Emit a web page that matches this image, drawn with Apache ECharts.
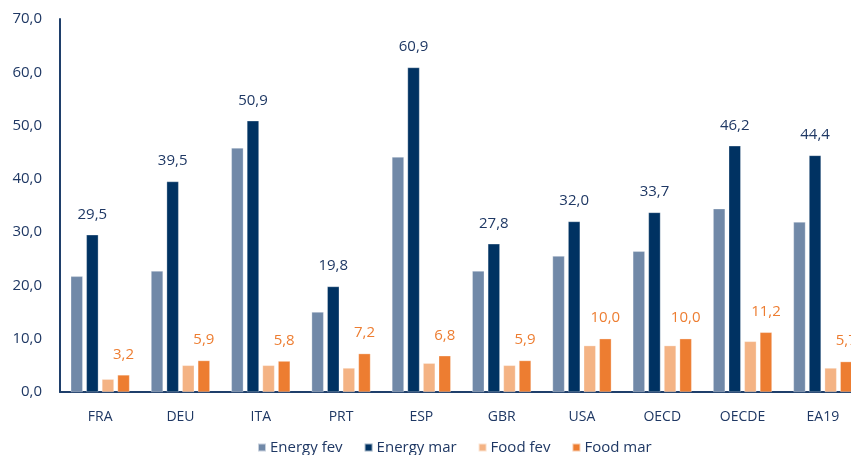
<!DOCTYPE html>
<html>
<head>
<meta charset="utf-8">
<script src="https://cdn.jsdelivr.net/npm/echarts@6/dist/echarts.min.js"></script>
<style>
  html, body { margin: 0; padding: 0; background: #ffffff; overflow: hidden; }
  /* the plot runs a little past the right edge of the page */
  #chart { width: 870px; height: 455px; }
</style>
</head>
<body>
<div id="chart"></div>
<script>
// Price change by country: energy and food, February vs March
const categories = ['FRA', 'DEU', 'ITA', 'PRT', 'ESP', 'GBR', 'USA', 'OECD', 'OECDE', 'EA19'];
const energyFev = [21.7, 22.7, 45.8, 15.0, 44.1, 22.7, 25.5, 26.4, 34.4, 31.9];
const energyMar = [29.5, 39.5, 50.9, 19.8, 60.9, 27.8, 32.0, 33.7, 46.2, 44.4];
const foodFev = [2.4, 5.0, 5.0, 4.5, 5.4, 5.0, 8.7, 8.7, 9.5, 4.5];
const foodMar = [3.2, 5.9, 5.8, 7.2, 6.8, 5.9, 10.0, 10.0, 11.2, 5.7];
const yTicks = [0, 10, 20, 30, 40, 50, 60, 70];

const FONT = 'Open Sans';
const NAVY_TEXT = '#1F3864';
const fmt = v => Number(v).toFixed(1).replace('.', ',');

function barSeries(name, data, color, labelColor) {
  const s = {
    name: name,
    type: 'bar',
    data: data,
    barWidth: 12,
    barGap: '30%',
    itemStyle: { color: color, borderColor: 'rgba(255,255,255,0.6)', borderWidth: 0.5 }
  };
  if (labelColor) {
    s.label = {
      show: true,
      position: 'top',
      distance: 13,
      color: labelColor,
      fontFamily: FONT,
      fontSize: 15,
      formatter: p => fmt(p.value)
    };
  }
  return s;
}

const chart = echarts.init(document.getElementById('chart'), null, { renderer: 'canvas' });
chart.setOption({
  animation: false,
  backgroundColor: '#ffffff',
  grid: { left: 60, top: 19, width: 803, bottom: 63, containLabel: false },
  legend: {
    left: 252,
    top: 435,
    itemWidth: 8,
    itemHeight: 8,
    itemGap: 21,
    icon: 'rect',
    textStyle: { color: NAVY_TEXT, fontFamily: FONT, fontSize: 15, padding: [0, 0, 0, -1] },
    data: ['Energy fev', 'Energy mar', 'Food fev', 'Food mar']
  },
  xAxis: {
    type: 'category',
    data: categories,
    axisLine: { lineStyle: { color: '#1F3F6B', width: 2 } },
    axisTick: { show: false },
    axisLabel: { color: NAVY_TEXT, fontFamily: FONT, fontSize: 14, margin: 18 }
  },
  yAxis: {
    type: 'value',
    min: yTicks[0],
    max: yTicks[yTicks.length - 1],
    interval: 10,
    axisLine: { show: true, lineStyle: { color: '#1F3F6B', width: 2 } },
    axisTick: { show: false },
    splitLine: { show: false },
    axisLabel: { color: NAVY_TEXT, fontFamily: FONT, fontSize: 15, margin: 18, formatter: v => fmt(v) }
  },
  series: [
    barSeries('Energy fev', energyFev, '#7189A8', null),
    barSeries('Energy mar', energyMar, '#003262', NAVY_TEXT),
    barSeries('Food fev', foodFev, '#F4B384', null),
    barSeries('Food mar', foodMar, '#ED7D31', '#ED7D31')
  ]
});
</script>
</body>
</html>
